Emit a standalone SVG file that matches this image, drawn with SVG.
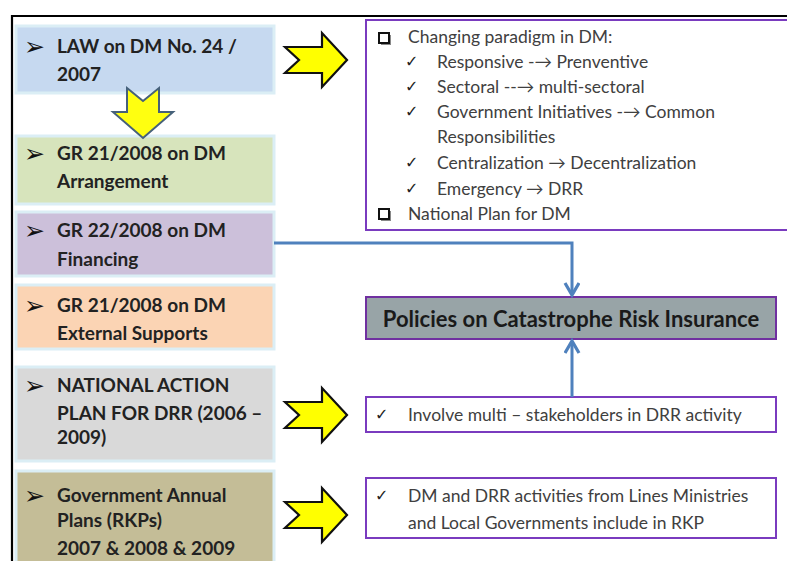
<svg xmlns="http://www.w3.org/2000/svg" width="787" height="561" viewBox="0 0 787 561">
  <style>
    .frame { stroke: #000; stroke-width: 2.2; fill: none; }
    .lbox { stroke: #dbeef5; stroke-width: 3; }
    .ltxt { font-family: Lato, "Open Sans", "Liberation Sans", sans-serif; font-weight: bold; font-size: 19px; fill: #222; }
    .bul { font-family: "DejaVu Sans", sans-serif; font-size: 25px; fill: #111; }
    .rbox { stroke: #7a3bbf; stroke-width: 2; fill: #fff; }
    .rtxt { font-family: Lato, "Open Sans", "Liberation Sans", sans-serif; font-size: 17.5px; fill: #404040; }
    .chk { font-family: "DejaVu Sans", sans-serif; font-size: 16px; fill: #222; }
    .sq { fill: #fff; stroke: #111; stroke-width: 2; }
    .sqs { fill: #888; }
    .yarrow { fill: #ffff00; stroke: #111; stroke-width: 2.2; stroke-linejoin: miter; }
    .darrow { fill: #ffff10; stroke: #46617a; stroke-width: 2; stroke-linejoin: miter; }
    .conn { stroke: #4f81bd; stroke-width: 3; fill: none; }
    .ptxt { font-family: Lato, "Open Sans", "Liberation Sans", sans-serif; font-weight: bold; font-size: 22px; fill: #1a1a1a; }
  </style>
  <defs>
    <!-- notched block arrow pointing right, tail at x=0, centred on y=0 -->
    <polygon id="rightArrow" points="0,-13 37,-13 37,-27 62,0 37,27 37,13 0,13 14,0"/>
    <marker id="chev" markerUnits="userSpaceOnUse" markerWidth="20" markerHeight="20" refX="14" refY="8" orient="auto">
      <path d="M2,1 L14,8 L2,15" fill="none" stroke="#4f81bd" stroke-width="3.2" stroke-linejoin="miter"/>
    </marker>
  </defs>

  <rect width="787" height="561" fill="#fff"/>

  <!-- outer frame -->
  <path class="frame" d="M12,561 V16 H787"/>

  <!-- left column of legal instruments -->
  <g id="law-dm">
    <rect class="lbox" x="16" y="26" width="258" height="67" fill="#c6d9f0"/>
    <text class="bul" x="24" y="55">➢</text>
    <text class="ltxt" x="57" y="53">LAW on DM No. 24 /</text>
    <text class="ltxt" x="57" y="81">2007</text>
  </g>
  <g id="gr21-arrangement">
    <rect class="lbox" x="16" y="136" width="258" height="68" fill="#d7e4bc"/>
    <text class="bul" x="24" y="162">➢</text>
    <text class="ltxt" x="57" y="160">GR 21/2008 on DM</text>
    <text class="ltxt" x="57" y="188">Arrangement</text>
  </g>
  <g id="gr22-financing">
    <rect class="lbox" x="16" y="212" width="258" height="64" fill="#ccc0da"/>
    <text class="bul" x="24" y="239">➢</text>
    <text class="ltxt" x="57" y="237">GR 22/2008 on DM</text>
    <text class="ltxt" x="57" y="266">Financing</text>
  </g>
  <g id="gr21-external">
    <rect class="lbox" x="16" y="285" width="258" height="64" fill="#fbd4b4"/>
    <text class="bul" x="24" y="314">➢</text>
    <text class="ltxt" x="57" y="312">GR 21/2008 on DM</text>
    <text class="ltxt" x="57" y="340">External Supports</text>
  </g>
  <g id="national-action-plan">
    <rect class="lbox" x="16" y="367" width="258" height="94" fill="#d9d9d9"/>
    <text class="bul" x="24" y="394">➢</text>
    <text class="ltxt" x="57" y="392">NATIONAL ACTION</text>
    <text class="ltxt" x="57" y="420">PLAN FOR DRR (2006 –</text>
    <text class="ltxt" x="57" y="444">2009)</text>
  </g>
  <g id="annual-plans">
    <rect class="lbox" x="16" y="471" width="258" height="95" fill="#c4bd97"/>
    <text class="bul" x="24" y="504">➢</text>
    <text class="ltxt" x="57" y="502">Government Annual</text>
    <text class="ltxt" x="57" y="527">Plans (RKPs)</text>
    <text class="ltxt" x="57" y="555">2007 &amp; 2008 &amp; 2009</text>
  </g>

  <!-- block arrows -->
  <g id="block-arrows">
    <path class="darrow" d="M127,88 L143,101 L159,88 L159,112 L173,112 L143,138 L113,112 L127,112 Z"/>
    <use href="#rightArrow" class="yarrow" x="285" y="60"/>
    <use href="#rightArrow" class="yarrow" x="285" y="415"/>
    <use href="#rightArrow" class="yarrow" x="285" y="515"/>
  </g>

  <!-- paradigm shift box -->
  <g id="paradigm">
    <path class="rbox" d="M790,20 H366 V230 H790"/>
    <rect class="sqs" x="381" y="35" width="10" height="10"/>
    <rect class="sq" x="379" y="33" width="10" height="10"/>
    <text class="rtxt" x="408" y="43">Changing paradigm in DM:</text>
    <text class="chk" x="405" y="67">✓</text>
    <text class="rtxt" x="437" y="68">Responsive -→ Prenventive</text>
    <text class="chk" x="405" y="92">✓</text>
    <text class="rtxt" x="437" y="93">Sectoral --→ multi-sectoral</text>
    <text class="chk" x="405" y="117">✓</text>
    <text class="rtxt" x="437" y="118">Government  Initiatives -→ Common</text>
    <text class="rtxt" x="437" y="143">Responsibilities</text>
    <text class="chk" x="405" y="168">✓</text>
    <text class="rtxt" x="437" y="169">Centralization → Decentralization</text>
    <text class="chk" x="405" y="194">✓</text>
    <text class="rtxt" x="437" y="195">Emergency → DRR</text>
    <rect class="sqs" x="381" y="211" width="10" height="10"/>
    <rect class="sq" x="379" y="209" width="10" height="10"/>
    <text class="rtxt" x="408" y="220">National Plan for DM</text>
  </g>

  <!-- central policy node -->
  <g id="policies">
    <rect x="366" y="297" width="410" height="42" fill="#98a4a7" stroke="#7030a0" stroke-width="2"/>
    <text class="ptxt" x="571" y="327" text-anchor="middle">Policies on Catastrophe Risk Insurance</text>
  </g>

  <g id="stakeholders">
    <rect class="rbox" x="366" y="397" width="410" height="35"/>
    <text class="chk" x="375" y="420">✓</text>
    <text class="rtxt" x="408" y="421">Involve multi – stakeholders in DRR activity</text>
  </g>

  <g id="rkp-activities">
    <rect class="rbox" x="366" y="478" width="410" height="60"/>
    <text class="chk" x="375" y="501">✓</text>
    <text class="rtxt" x="408" y="502">DM and DRR activities from Lines Ministries</text>
    <text class="rtxt" x="408" y="529">and Local Governments  include in RKP</text>
  </g>

  <!-- connectors -->
  <g id="connectors">
    <path class="conn" d="M274,243 H572 V295" marker-end="url(#chev)"/>
    <path class="conn" d="M572,397 V341" marker-end="url(#chev)"/>
  </g>
</svg>
